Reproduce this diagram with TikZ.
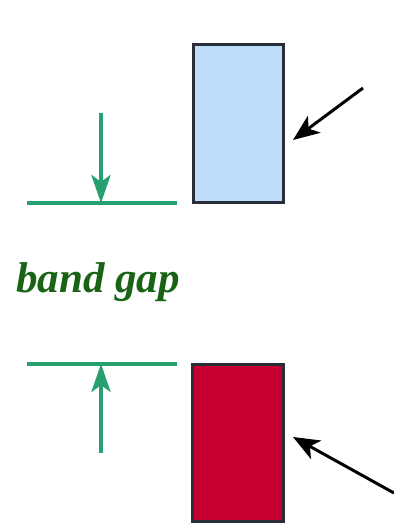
\documentclass[tikz,border=0pt]{standalone}
\usepackage{fontspec}
\setmainfont{Liberation Serif}
\usetikzlibrary{arrows.meta,positioning}
\definecolor{cbcolor}{RGB}{190,221,250}
\definecolor{vbcolor}{RGB}{200,0,50}
\definecolor{edgecolor}{RGB}{40,45,55}
\definecolor{gapcolor}{RGB}{38,160,110}
\definecolor{textcolor}{RGB}{25,100,20}

\tikzset{
  bandbox/.style={draw=edgecolor, line width=1.5pt, inner sep=0pt,
    minimum width=1.81cm, minimum height=3.15cm},
  levelline/.style={draw=gapcolor, line width=1.8pt},
  gaparrow/.style={draw=gapcolor, line width=1.8pt,
    -{Stealth[length=16pt,width=11pt,inset=4pt,fill=gapcolor]}},
  pointer/.style={draw=black, line width=1.7pt,
    -{Stealth[length=15pt,width=12pt,inset=4pt]}}
}

\begin{document}
\begin{tikzpicture}[x=0.02cm,y=-0.02cm]
\useasboundingbox (0,0) rectangle (394,525);

% -------- Conduction band (top) --------
\node[bandbox, fill=cbcolor] (cb) at (238.5,123.5) {};

% -------- Valence band (bottom) --------
\node[bandbox, fill=vbcolor] (vb) at (238,443) {};

% -------- Band edges --------
\coordinate (cbleft) at (27,203);
\coordinate (cbright) at (177,203);
\coordinate (vbleft) at (27,364);
\coordinate (vbright) at (177,364);
\draw[levelline] (cbleft) -- (cbright);
\draw[levelline] (vbleft) -- (vbright);

% -------- Gap arrows --------
\coordinate (downstart) at (101,113);
\coordinate (downend) at (101,203);
\coordinate (upstart) at (101,453);
\coordinate (upend) at (101,364);
\draw[gaparrow] (downstart) -- (downend);
\draw[gaparrow] (upstart) -- (upend);

% -------- Label --------
\node[anchor=base, inner sep=0pt, text=textcolor,
  font=\fontsize{24.5}{29}\selectfont\bfseries\itshape] (gap) at (98,292)
{band gap};

% -------- Pointers to the bands --------
\coordinate (cbtail) at (363,88);
\coordinate (cbtip) at (293,140);
\coordinate (vbtail) at (394,493);
\coordinate (vbtip) at (293,437);
\draw[pointer] (cbtail) -- (cbtip);
\draw[pointer] (vbtail) -- (vbtip);

\end{tikzpicture}
\end{document}
